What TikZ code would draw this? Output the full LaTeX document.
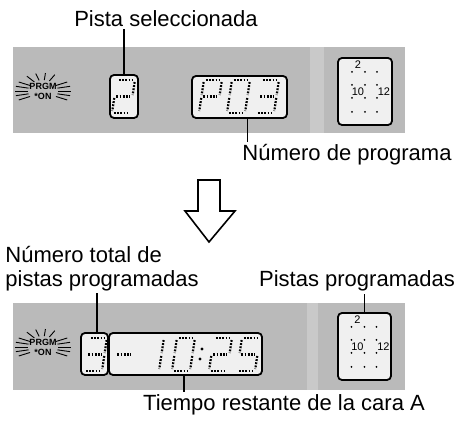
\documentclass[tikz,border=0pt]{standalone}
\usepackage{fontspec}
\setmainfont{Liberation Sans}
\usetikzlibrary{positioning}

% one dotted seven-segment digit, origin at its lower left corner
\newcommand{\lcddigit}[3]{%
  \begin{scope}[shift={(#1,#2)}, xslant=0.15]
    \coordinate (a1) at (2,-33);  \coordinate (a2) at (16,-33);
    \coordinate (b1) at (18,-31); \coordinate (b2) at (18,-18);
    \coordinate (c1) at (18,-15); \coordinate (c2) at (18,-2);
    \coordinate (d1) at (2,0);    \coordinate (d2) at (16,0);
    \coordinate (e1) at (0,-15);  \coordinate (e2) at (0,-2);
    \coordinate (f1) at (0,-31);  \coordinate (f2) at (0,-18);
    \coordinate (g1) at (2,-16.5);  \coordinate (g2) at (16,-16.5);
    \foreach \s in {#3} \draw[seg] (\s1) -- (\s2);
  \end{scope}}

\begin{document}
\begin{tikzpicture}[
    x=0.5pt, y=-0.5pt,
    lbl/.style   = {font=\fontsize{11}{12}\selectfont, inner sep=1pt},
    panel/.style = {fill=black!27},
    lcd/.style   = {draw, line width=0.9pt, rounded corners=2pt,
                    fill=black!6, inner sep=0pt},
    seg/.style   = {line width=1.1pt, dash pattern=on 0.9pt off 0.7pt},
    lead/.style  = {line width=0.6pt},
    ray/.style   = {line width=0.45pt},
    burst/.style = {font=\fontsize{4.5}{5}\selectfont\bfseries,
                    align=center, inner sep=0pt},
    dial/.style  = {font=\fontsize{5.5}{6}\selectfont, inner sep=0pt},
    hollow/.style= {line width=0.8pt, fill=white, line join=miter}
  ]
  \useasboundingbox (0,0) rectangle (462,422);

  % panels
  \fill[panel] (13,47) rectangle (405,133);
  \fill[black!21] (310,47) rectangle (324,133);
  \fill[panel] (13,303) rectangle (405,390);
  \fill[black!21] (307,303) rectangle (318,390);

  % nodes
  \node[lbl] (pista) at (166,19) {Pista seleccionada};
  \node[lcd, minimum width=14pt, minimum height=21.5pt] (trk) at (124,96.5) {};
  \node[lcd, minimum width=47.5pt, minimum height=21pt] (prog) at (239.5,97) {};
  \node[lcd, minimum width=27pt, minimum height=33.5pt] (clkA) at (365,91.5) {};
  \node[lbl] (numprog) at (347,155) {Número de programa};

  \node[lbl, align=left, anchor=west] (total) at (3,268.5) {Número total de\\pistas programadas};
  \node[lbl] (pistas) at (357,281) {Pistas programadas};
  \node[lcd, minimum width=13.5pt, minimum height=21pt] (cnt) at (94.5,354) {};
  \node[lcd, minimum width=76.5pt, minimum height=21pt] (time) at (185.5,354) {};
  \node[lcd, minimum width=26.5pt, minimum height=33.5pt] (clkB) at (364.5,346.5) {};
  \node[lbl] (tiempo) at (284,405) {Tiempo restante de la cara A};

  \node[burst] (prgA) at (43,91) {PRGM\\*ON};
  \node[burst] (prgB) at (43,347) {PRGM\\*ON};

  % flashing rays
  \foreach \b in {prgA,prgB}
    \foreach \a in {65,85,105,125,150,165,180,195,210,30,15,0,-15,-30}
      \draw[ray] ([shift={(\a:7.5pt and 5.5pt)}]\b.center) -- ([shift={(\a:14pt and 9pt)}]\b.center);

  % dials
  \foreach \c in {clkA,clkB}{
    \begin{scope}[shift={(\c.center)}]
      \foreach \i in {-13,0,12}
        \foreach \j in {-19.5,-6.5,6.5,20.5}
          \fill (\i,\j) circle (0.5pt);
      \node[dial] (\c-two) at (-7,-26.5) {2};
      \node[dial] (\c-ten) at (-7,0.5) {10};
      \node[dial] (\c-twelve) at (19,0.5) {12};
    \end{scope}}

  % digits
  \lcddigit{112}{113}{a,b,g,e,d}
  \lcddigit{199}{113}{a,b,f,g,e}
  \lcddigit{227}{113}{a,b,c,d,e,f}
  \lcddigit{256}{113}{a,b,c,d,g}

  \lcddigit{84}{371}{a,b,c,d,g}
  \lcddigit{113}{371}{g}
  \lcddigit{141}{371}{b,c}
  \lcddigit{172}{371}{a,b,c,d,e,f}
  \lcddigit{209}{371}{a,b,g,e,d}
  \lcddigit{237}{371}{a,f,g,c,d}
  \fill (202,349) circle (0.8pt);
  \fill (200,359) circle (0.8pt);

  % leaders
  \draw[lead] (trk.north) -- (trk.north |- pista.south);
  \draw[lead] ([xshift=4pt]prog.south) -- ([xshift=4pt]prog.south |- numprog.north);
  \draw[lead] ([xshift=1.25pt]cnt.north) -- ([xshift=1.25pt]cnt.north |- total.south);
  \draw[lead] (clkB.north) -- (clkB.north |- pistas.south);
  \draw[lead] ([xshift=-0.75pt]time.south) -- ([xshift=-0.75pt]time.south |- tiempo.north);

  % big arrow
  \draw[hollow] (198,180) -- (220,180) -- (220,211) -- (235,211) -- (209,242)
    -- (185,211) -- (198,211) -- cycle;

\end{tikzpicture}
\end{document}
